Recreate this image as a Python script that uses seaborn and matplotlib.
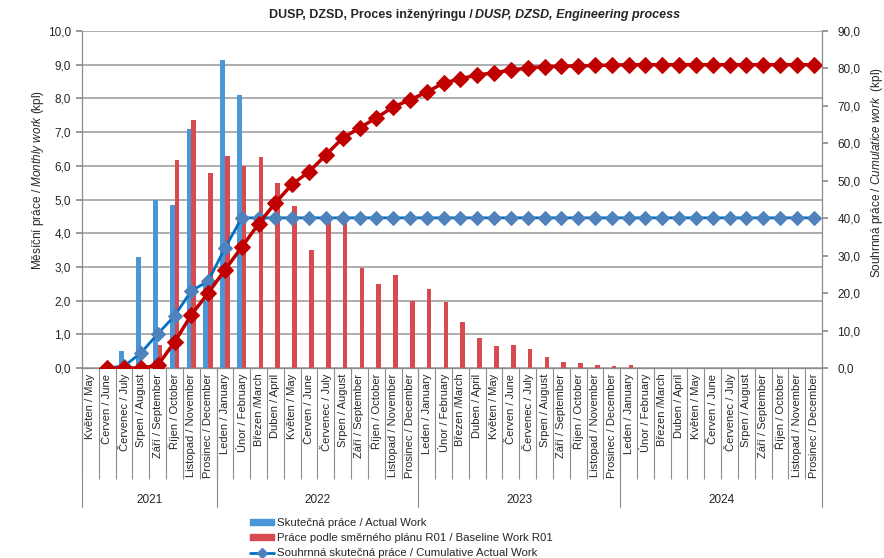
import numpy as np
import pandas as pd
import matplotlib
matplotlib.use("Agg")
import matplotlib.pyplot as plt
import seaborn as sns
from matplotlib import font_manager as fm
from matplotlib.transforms import blended_transform_factory
from matplotlib.lines import Line2D
from matplotlib.patches import Patch
from matplotlib.ticker import FuncFormatter

# ---------------- data ----------------
years = ["2021", "2022", "2023", "2024"]
months_per_year = [8, 12, 12, 12]
month_labels = (
    ["Květen / May", "Červen / June", "Červenec / July", "Srpen / August",
     "Září / September", "Říjen / October", "Listopad / November", "Prosinec / December"]
    + ["Leden / January", "Únor / February", "Březen /March", "Duben / April",
       "Květen / May", "Červen / June", "Červenec / July", "Srpen / August",
       "Září / September", "Říjen / October", "Listopad / November", "Prosinec / December"] * 3
)

actual_work = [np.nan, 0.0, 0.5, 3.3, 5.0, 4.85, 7.1, 2.6, 9.15, 8.1,
               np.nan, np.nan, np.nan, np.nan, np.nan, np.nan, np.nan, np.nan, np.nan, np.nan,
               np.nan, np.nan, np.nan, np.nan, np.nan, np.nan, np.nan, np.nan, np.nan, np.nan,
               np.nan, np.nan, np.nan, np.nan, np.nan, np.nan, np.nan, np.nan, np.nan, np.nan,
               np.nan, np.nan, np.nan, np.nan]

baseline_work = [np.nan, 0.0, 0.0, 0.0, 0.68, 6.17, 7.36, 5.79, 6.29, 5.99,
                 6.26, 5.49, 4.81, 3.50, 4.36, 4.36, 2.97, 2.49, 2.76, 1.99,
                 2.34, 1.96, 1.37, 0.89, 0.66, 0.68, 0.56, 0.33, 0.18, 0.14,
                 0.09, 0.05, 0.09, 0.0, 0.0, 0.0, 0.0, 0.0, 0.0, 0.0,
                 0.0, 0.0, 0.0, 0.0]

cum_actual = [np.nan, 0.0, 0.5, 4.0, 9.1, 13.9, 20.6, 23.2, 32.0, 40.1,
              40.1, 40.1, 40.1, 40.1, 40.1, 40.1, 40.1, 40.1, 40.1, 40.1,
              40.1, 40.1, 40.1, 40.1, 40.1, 40.1, 40.1, 40.1, 40.1, 40.1,
              40.1, 40.1, 40.1, 40.1, 40.1, 40.1, 40.1, 40.1, 40.1, 40.1,
              40.1, 40.1, 40.1, 40.1]

cum_baseline = [np.nan, 0.0, 0.0, 0.0, 0.7, 6.9, 14.2, 20.0, 26.2, 32.3,
                38.5, 44.1, 49.1, 52.4, 56.9, 61.4, 64.1, 66.8, 69.7, 71.6,
                73.7, 76.1, 77.2, 78.3, 78.8, 79.6, 80.1, 80.5, 80.6, 80.7,
                80.8, 80.9, 81.0, 81.0, 81.0, 81.0, 81.0, 81.0, 81.0, 81.0,
                81.0, 81.0, 81.0, 81.0]

series_names = ["Skutečná práce / Actual Work",
                "Práce podle směrného plánu R01 / Baseline Work R01",
                "Souhrnná skutečná práce / Cumulative Actual Work"]

BLUE = "#4B96D7"
RED = "#D74B50"
LINE_BLUE = "#0070C0"
MARK_BLUE = "#4F81BD"
LINE_RED = "#C00000"
GREY = "#8C8C8C"
GRID = "#A0A0A0"

# ---------------- style ----------------
sns.set_theme(style="white")
names = {f.name for f in fm.fontManager.ttflist}
FONT = "Liberation Sans Narrow" if "Liberation Sans Narrow" in names else "Liberation Sans"
plt.rcParams["font.family"] = [FONT, "DejaVu Sans"]
plt.rcParams["mathtext.fontset"] = "custom"
plt.rcParams["mathtext.rm"] = FONT
plt.rcParams["mathtext.it"] = FONT + ":italic"
plt.rcParams["text.color"] = "#262626"

n = len(month_labels)
idx = list(range(n))

fig = plt.figure(figsize=(8.84, 5.58), dpi=100)
ax = fig.add_axes([82 / 884, 1 - 368 / 558, (822 - 82) / 884, 337 / 558])

df = pd.DataFrame({
    "idx": idx * 2,
    "value": actual_work + baseline_work,
    "series": [series_names[0]] * n + [series_names[1]] * n,
})
sns.barplot(data=df, x="idx", y="value", hue="series", palette=[BLUE, RED],
            width=0.56, saturation=1, ax=ax, legend=False, order=idx,
            hue_order=series_names[:2], linewidth=0)

ax.set_xlim(-0.5, n - 0.5)
ax.set_ylim(0, 10)
ax.set_yticks(np.arange(0, 11, 1))
fmt = FuncFormatter(lambda v, p: f"{v:.1f}".replace(".", ","))
ax.yaxis.set_major_formatter(fmt)
ax.yaxis.grid(True, color=GRID, lw=1.2)
ax.set_axisbelow(True)
ax.set_xlabel("")
ax.set_ylabel("")

ax.set_xticks(idx)
ax.set_xticklabels(month_labels, rotation=90, fontsize=8, va="top", ha="center")
ax.set_xticks(np.arange(-0.5, n, 1), minor=True)
ax.tick_params(axis="x", which="major", length=0, pad=4)
ax.tick_params(axis="x", which="minor", length=80, color=GREY, width=0.8, bottom=True)
ax.tick_params(axis="y", direction="out", length=4, color=GREY, labelsize=8.5, pad=4, left=True)

for s in ["left", "bottom"]:
    ax.spines[s].set_color(GREY)
    ax.spines[s].set_linewidth(0.9)
ax.spines["top"].set_visible(False)
ax.spines["right"].set_visible(False)

trans = blended_transform_factory(ax.transData, ax.transAxes)
bounds = np.concatenate([[0], np.cumsum(months_per_year)]) - 0.5
for b in bounds:
    ax.plot([b, b], [0, -0.412], transform=trans, clip_on=False, color=GREY, lw=0.8)
for y, a, b in zip(years, bounds[:-1], bounds[1:]):
    ax.text((a + b) / 2, -0.392, y, transform=trans, ha="center", va="center", fontsize=8.5)

# ---------------- cumulative lines ----------------
ax2 = ax.twinx()
sns.lineplot(x=idx, y=cum_actual, ax=ax2, color=LINE_BLUE, lw=2, marker="D",
             markersize=7, markerfacecolor=MARK_BLUE, markeredgecolor=MARK_BLUE,
             errorbar=None)
sns.lineplot(x=idx, y=cum_baseline, ax=ax2, color=LINE_RED, lw=2.5, marker="D",
             markersize=8, markerfacecolor=LINE_RED, markeredgecolor=LINE_RED,
             errorbar=None)
ax2.set_xlim(-0.5, n - 0.5)
ax2.set_ylim(0, 90)
ax2.set_yticks(np.arange(0, 91, 10))
ax2.yaxis.set_major_formatter(fmt)
ax2.grid(False)
ax2.set_ylabel("")
ax2.set_xlabel("")
ax2.tick_params(axis="y", direction="out", length=4, color=GREY, labelsize=8.5, pad=7, right=True)
for s in ["top", "left", "bottom"]:
    ax2.spines[s].set_visible(False)
ax2.spines["right"].set_color(GREY)
ax2.spines["right"].set_linewidth(0.9)

# ---------------- labels ----------------
fig.text(38 / 884, 1 - 180 / 558, r"Měsíční práce / $\mathit{Monthly\ work}$ (kpl)",
         rotation=90, ha="center", va="center", fontsize=8.5)
fig.text(877 / 884, 1 - 173 / 558, r"Souhrnná práce / $\mathit{Cumulatice\ work}$  (kpl)",
         rotation=90, ha="center", va="center", fontsize=8.5)

fig.text(473 / 884, 1 - 15 / 558, "DUSP, DZSD, Proces inženýringu /",
         ha="right", va="center", fontsize=9, fontweight="bold")
fig.text(475 / 884, 1 - 15 / 558, "DUSP, DZSD, Engineering process",
         ha="left", va="center", fontsize=9, fontweight="bold", fontstyle="italic")

handles = [Patch(color=BLUE), Patch(color=RED),
           Line2D([], [], color=LINE_BLUE, lw=2, marker="D", markersize=5,
                  markerfacecolor=MARK_BLUE, markeredgecolor=MARK_BLUE)]
fig.legend(handles, series_names, loc="upper left",
           bbox_to_anchor=(250 / 884, 1 - 518 / 558), frameon=False, fontsize=8.2,
           handlelength=2.1, handleheight=0.5, labelspacing=0.45, handletextpad=0.3,
           borderpad=0, borderaxespad=0)

fig.savefig("out.png", dpi=100)
